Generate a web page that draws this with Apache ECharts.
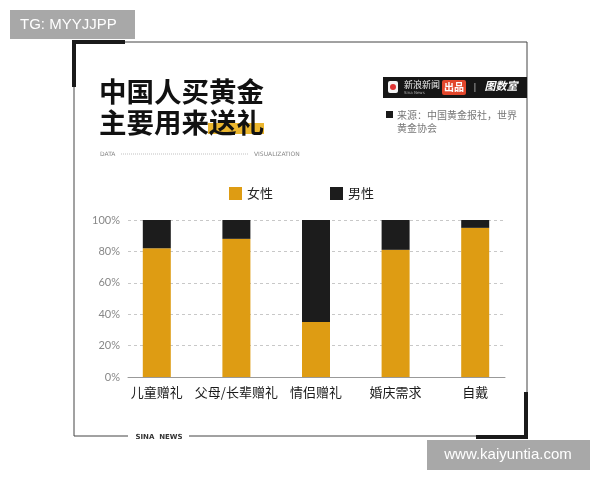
<!DOCTYPE html>
<html><head><meta charset="utf-8">
<script src="https://cdn.jsdelivr.net/npm/echarts@6/dist/echarts.min.js"></script>
<style>html,body{margin:0;padding:0;background:#fff}#c{width:600px;height:480px}</style>
</head><body><div id="c"></div>
<script>
var categories = ['儿童赠礼', '父母/长辈赠礼', '情侣赠礼', '婚庆需求', '自戴'];
var female = [82, 88, 35, 81, 95];
var male = [18, 12, 65, 19, 5];
var yTicks = ['0%', '20%', '40%', '60%', '80%', '100%'];
var seriesNames = ['女性', '男性'];

var GOLD = '#DE9C13', BLACK = '#1c1c1c';
var FONT = '"Noto Sans CJK SC", "Noto Sans", sans-serif';
var chart = echarts.init(document.getElementById('c'));

var g = [];
// frame
g.push({type:'polyline', shape:{points:[[74,42],[527,42],[527,436],[189,436]]}, style:{stroke:'#444',lineWidth:1,fill:null}});
g.push({type:'polyline', shape:{points:[[128,436],[74,436],[74,42]]}, style:{stroke:'#444',lineWidth:1,fill:null}});
g.push({type:'rect', shape:{x:72,y:40,width:53,height:4}, style:{fill:'#1a1a1a'}});
g.push({type:'rect', shape:{x:72,y:40,width:4,height:47}, style:{fill:'#1a1a1a'}});
g.push({type:'rect', shape:{x:524,y:392,width:4,height:47}, style:{fill:'#1a1a1a'}});
g.push({type:'rect', shape:{x:476,y:435,width:52,height:4}, style:{fill:'#1a1a1a'}});
g.push({type:'text', style:{text:'SINA  NEWS', x:159, y:437, align:'center', verticalAlign:'middle', font:'bold 7px "DejaVu Sans", sans-serif', fill:'#333'}});
// watermarks
g.push({type:'rect', shape:{x:10,y:10,width:125,height:29}, style:{fill:'#a8a8a8'}});
g.push({type:'text', style:{text:'TG: MYYJJPP', x:20, y:25, verticalAlign:'middle', font:'15px "Liberation Sans", Arial, sans-serif', fill:'#fff'}});
g.push({type:'rect', shape:{x:427,y:440,width:163,height:30}, style:{fill:'#a8a8a8'}});
g.push({type:'text', style:{text:'www.kaiyuntia.com', x:508, y:455, align:'center', verticalAlign:'middle', font:'15px "Liberation Sans", Arial, sans-serif', fill:'#fff'}});
// title
g.push({type:'rect', shape:{x:208,y:123,width:56,height:11}, style:{fill:'#EBB62E'}});
g.push({type:'text', style:{text:'中国人买黄金', x:99, y:92, verticalAlign:'middle', font:'bold 27.5px '+FONT, fill:'#111'}});
g.push({type:'text', style:{text:'主要用来送礼', x:99, y:123, verticalAlign:'middle', font:'bold 27.5px '+FONT, fill:'#111'}});
g.push({type:'text', style:{text:'DATA', x:100, y:154, verticalAlign:'middle', font:'6px "DejaVu Sans", sans-serif', fill:'#888'}});
g.push({type:'line', shape:{x1:121,y1:154,x2:248,y2:154}, style:{stroke:'#999',lineWidth:0.6,lineDash:[1,1]}});
g.push({type:'text', style:{text:'VISUALIZATION', x:254, y:154, verticalAlign:'middle', font:'6px "DejaVu Sans", sans-serif', fill:'#888'}});
// brand bar
g.push({type:'rect', shape:{x:383,y:77,width:144,height:21}, style:{fill:'#161616'}});
g.push({type:'rect', shape:{x:388,y:81,width:10,height:12, r:2}, style:{fill:'#f4f4f4'}});
g.push({type:'circle', shape:{cx:393,cy:87,r:3}, style:{fill:'#d33'}});
g.push({type:'text', style:{text:'新浪新闻', x:404, y:85, verticalAlign:'middle', font:'9px '+FONT, fill:'#eee'}});
g.push({type:'text', style:{text:'Sina News', x:404, y:93, verticalAlign:'middle', font:'4px "DejaVu Sans", sans-serif', fill:'#aaa'}});
g.push({type:'rect', shape:{x:442,y:80,width:24,height:15, r:2}, style:{fill:'#E2472C'}});
g.push({type:'text', style:{text:'出品', x:454, y:87.5, align:'center', verticalAlign:'middle', font:'bold 10px '+FONT, fill:'#fff'}});
g.push({type:'text', style:{text:'|', x:475, y:87.5, align:'center', verticalAlign:'middle', font:'9px sans-serif', fill:'#bbb'}});
g.push({type:'text', style:{text:'图数室', x:501, y:86, align:'center', verticalAlign:'middle', font:'italic bold 11px '+FONT, fill:'#fff'}});
g.push({type:'rect', shape:{x:386,y:111,width:7,height:7}, style:{fill:'#1a1a1a'}});
g.push({type:'text', style:{text:'来源：中国黄金报社，世界', x:397, y:115, verticalAlign:'middle', font:'10px '+FONT, fill:'#777'}});
g.push({type:'text', style:{text:'黄金协会', x:397, y:128, verticalAlign:'middle', font:'10px '+FONT, fill:'#777'}});

chart.setOption({
  animation:false,
  backgroundColor:'#fff',
  graphic:{elements:g},
  legend:{
    left:229, top:187, padding:0, itemWidth:13, itemHeight:13, itemGap:57, icon:'rect',
    data:seriesNames,
    textStyle:{fontSize:13, color:'#222', fontFamily:FONT, padding:[0,0,0,0]}
  },
  grid:[
    {left:117, right:85, top:220, bottom:103},
    {left:128, right:95, top:220, bottom:103}
  ],
  xAxis:[
    {type:'category', gridIndex:0, data:categories, axisLine:{show:false}, axisTick:{show:false},
     axisLabel:{fontSize:13, color:'#1a1a1a', margin:9, fontFamily:FONT, interval:0}},
    {type:'category', gridIndex:1, data:categories, axisLine:{show:true, lineStyle:{color:'#999', width:1}},
     axisTick:{show:false}, axisLabel:{show:false}}
  ],
  yAxis:[
    {type:'value', gridIndex:0, min:0, max:100, interval:20, show:false},
    {type:'value', gridIndex:1, min:0, max:100, interval:20,
     axisLine:{show:false}, axisTick:{show:false},
     splitLine:{show:true, lineStyle:{color:'#c8c8c8', type:[3,3], width:1}},
     axisLabel:{color:'#888', fontSize:11, margin:8, fontFamily:'"Lato", "Noto Sans", sans-serif',
       formatter:function(v){ return yTicks[Math.round(v/20)]; }}}
  ],
  series:[
    {name:seriesNames[0], type:'bar', stack:'s', xAxisIndex:0, yAxisIndex:0, barWidth:28, data:female, itemStyle:{color:GOLD}},
    {name:seriesNames[1], type:'bar', stack:'s', xAxisIndex:0, yAxisIndex:0, barWidth:28, data:male, itemStyle:{color:BLACK}}
  ]
});
</script></body></html>
